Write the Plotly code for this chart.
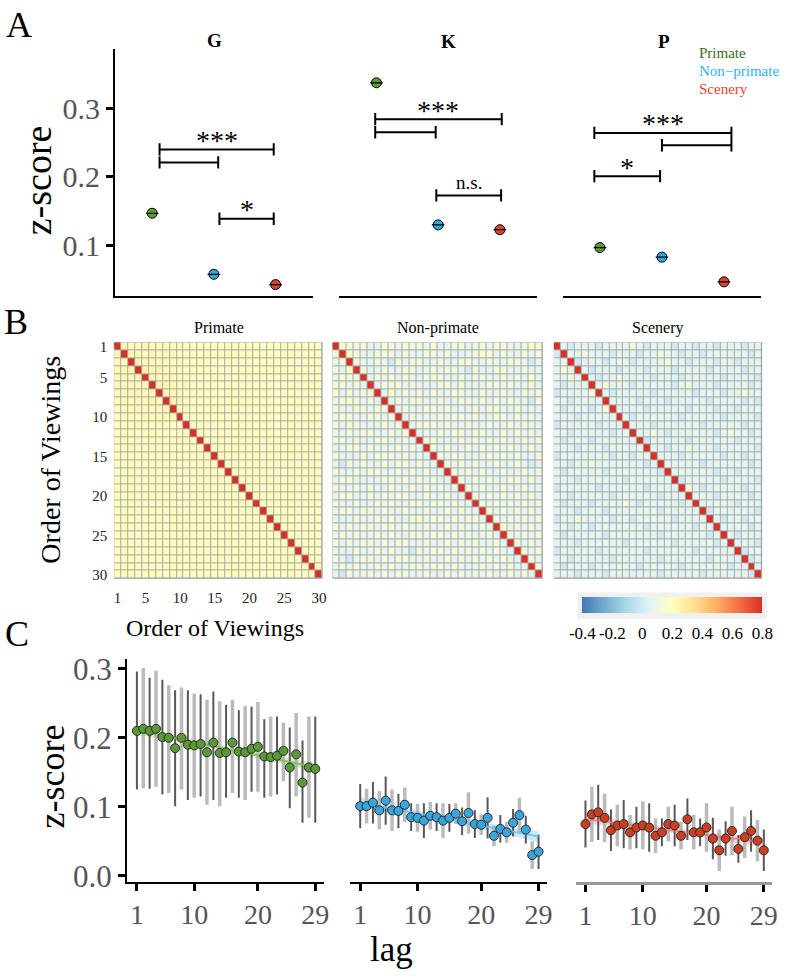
import numpy as np
import plotly.graph_objects as go

W, H = 792, 980
SERIF = "Liberation Serif"

# ---------------- data ----------------
cond_x = [1, 2, 3]
cond_names = ["Primate", "Non−primate", "Scenery"]
cond_colors = ["#5b9b37", "#2ea6df", "#d9452c"]

# panel A: mean z-score per area (Primate, Non-primate, Scenery)
g_mean = [0.147, 0.058, 0.043]
k_mean = [0.337, 0.130, 0.123]
p_mean = [0.097, 0.083, 0.047]
g_sem = [0.003, 0.002, 0.002]
k_sem = [0.003, 0.003, 0.003]
p_sem = [0.003, 0.003, 0.003]

# significance brackets: start, end, height, label
g_br_x0 = [1.12, 1.12, 2.09]
g_br_x1 = [2.97, 2.07, 2.97]
g_br_y = [0.240, 0.221, 0.139]
g_br_lab = ["***", "", "*"]
k_br_x0 = [0.98, 0.98, 1.97]
k_br_x1 = [3.03, 1.96, 3.02]
k_br_y = [0.284, 0.265, 0.173]
k_br_lab = ["***", "", "n.s."]
p_br_x0 = [0.91, 2.00, 0.91]
p_br_x1 = [3.12, 3.12, 1.97]
p_br_y = [0.264, 0.246, 0.201]
p_br_lab = ["***", "", "*"]

# panel B: correlation between viewings (off-diagonal codes, diagonal = 1)
level_val = {"0": -0.04, "1": 0.0, "2": 0.07, "3": 0.13, "4": 0.17,
             "5": 0.21, "6": 0.23, "7": 0.25, "X": 1.0}
primate_rows = [
    "76676 66565 55555 55555 45555 5554",
    "77667 66655 55655 55555 55455 5555",
    "66777 66565 56555 55455 55555 4555",
    "67776 76665 55555 45555 55555 5545",
    "66677 67665 55565 55555 54555 5555",
    "76666 77656 55555 55555 55545 5555",
    "66776 67665 65555 55455 55555 5455",
    "66666 76765 55555 55555 55555 5555",
    "56666 66766 55565 55545 55555 5555",
    "55656 66665 55555 45555 55555 4555",
    "55565 56555 55555 55555 55545 5555",
    "56555 65555 55545 55555 55555 5554",
    "55555 55555 65555 45555 55555 5555",
    "55655 55555 55555 55555 45555 5545",
    "55556 55555 55555 55555 55555 5555",
    "55555 55655 55555 54555 55555 4555",
    "45555 55555 55555 55555 55545 5555",
    "55555 55555 45555 55555 55555 5555",
    "55555 55555 55555 55555 45555 5554",
    "54555 55555 55555 55555 55555 5555",
    "55555 45555 55555 55555 55555 5555",
    "55555 55555 54555 55555 55455 5555",
    "55555 55455 55555 55555 55555 5545",
    "55555 55555 55555 45555 55555 5555",
    "55455 55555 55555 55555 55555 5555",
    "55555 55555 55554 55555 55555 4555",
    "55555 55555 55555 55555 55555 5555",
    "45555 55555 55555 54555 55555 5555",
    "55555 54555 55555 55555 55555 5555",
    "55555 55555 55555 55555 54555 5555",
]
nonprimate_rows = [
    "43332 24323 33242 23323 32332 2343",
    "34322 33323 22332 32223 43232 2323",
    "23322 32132 33223 22332 23223 3212",
    "32432 23223 32232 33213 22332 2322",
    "24332 32323 22333 22323 32232 3242",
    "33232 23332 32223 32322 23323 2232",
    "42323 32423 23232 23322 32232 2323",
    "23432 32232 33223 22332 32323 2213",
    "32233 23323 22332 32223 23322 3222",
    "23322 33232 32223 23323 22332 3232",
    "32332 22323 23332 32232 23223 2322",
    "22323 32232 32223 23323 32232 3232",
    "33232 23322 32332 22323 23232 2323",
    "22332 32223 23232 32232 32323 2232",
    "32223 23332 32223 23322 23232 3223",
    "21323 22323 32322 32323 22322 3212",
    "32232 33223 23232 23232 32232 2323",
    "23322 22332 32323 22323 23223 3242",
    "32232 32232 23232 32232 32232 2322",
    "23322 32323 32232 23223 23232 3232",
    "32232 23232 23323 32322 32323 2323",
    "23323 32322 32232 23232 23232 3232",
    "22232 23232 23423 32323 32323 2323",
    "32323 32332 32232 23232 23242 3232",
    "23232 23232 23323 32323 22323 2323",
    "32323 32323 32232 23232 32232 3232",
    "22232 23232 21323 32323 23232 2323",
    "32123 32323 32232 23232 32323 2232",
    "23232 23232 23323 32322 23232 3223",
    "21323 32323 32232 23232 32322 3232",
]
scenery_rows = [
    "21222 12222 32122 21221 22122 2122",
    "12232 22122 21223 22122 12222 2212",
    "22122 21222 12222 32212 22122 1222",
    "23221 22212 22122 21222 21222 2122",
    "22322 12232 22212 22122 22212 2221",
    "21222 23222 12222 21232 22122 2212",
    "12222 32122 22212 22221 22212 2322",
    "22122 22222 21222 12222 21222 2121",
    "21222 12322 22122 22212 22122 1222",
    "22212 22222 12222 22122 22212 2221",
    "12222 21222 22212 22222 12222 2122",
    "22122 22212 22232 12222 22123 2212",
    "21222 12222 22122 22212 22222 1222",
    "22212 22122 22222 12232 22122 2221",
    "12222 22212 21222 22122 22212 2122",
    "22122 32222 22212 22222 12222 2212",
    "21222 22122 22222 12222 22122 1222",
    "22212 22222 12222 22122 22212 2221",
    "12222 21222 22212 22232 12222 2122",
    "22122 22212 22222 12222 22122 2212",
    "21222 12222 32122 22212 22222 1222",
    "22212 22122 22222 12222 21222 2221",
    "12232 22212 21222 22122 22212 2122",
    "22122 12222 22212 22222 12222 2212",
    "21222 22122 22222 12222 22122 1222",
    "22212 22222 12222 22122 22212 2221",
    "12222 21222 22212 22222 12222 2122",
    "22122 22212 22222 12222 22122 2212",
    "21222 12222 22122 22212 22222 1222",
    "22212 22122 22222 12222 21222 2221",
]
viewings = list(range(1, 31))
view_ticks = [1, 5, 10, 15, 20, 25, 30]

# panel C: z-score by lag
lags = list(range(1, 30))
green_z = [0.210, 0.213, 0.210, 0.213, 0.201, 0.200, 0.185, 0.200, 0.190, 0.189,
           0.191, 0.179, 0.193, 0.178, 0.179, 0.193, 0.180, 0.179, 0.184, 0.187,
           0.173, 0.172, 0.174, 0.181, 0.157, 0.176, 0.135, 0.157, 0.155]
green_lo = [0.125, 0.127, 0.126, 0.129, 0.118, 0.120, 0.101, 0.125, 0.110, 0.113,
            0.115, 0.103, 0.110, 0.101, 0.113, 0.120, 0.113, 0.110, 0.122, 0.122,
            0.113, 0.115, 0.118, 0.137, 0.098, 0.115, 0.077, 0.084, 0.077]
green_hi = [0.296, 0.301, 0.287, 0.297, 0.284, 0.276, 0.269, 0.273, 0.269, 0.264,
            0.263, 0.255, 0.267, 0.253, 0.248, 0.255, 0.240, 0.246, 0.245, 0.252,
            0.227, 0.231, 0.231, 0.222, 0.215, 0.236, 0.196, 0.231, 0.231]
blue_z = [0.101, 0.101, 0.106, 0.095, 0.109, 0.095, 0.094, 0.103, 0.085, 0.084,
          0.080, 0.087, 0.085, 0.080, 0.084, 0.090, 0.079, 0.091, 0.075, 0.074,
          0.084, 0.058, 0.068, 0.063, 0.077, 0.088, 0.067, 0.030, 0.035]
blue_err = [0.032, 0.025, 0.030, 0.028, 0.035, 0.030, 0.025, 0.025, 0.020, 0.020,
            0.025, 0.020, 0.020, 0.025, 0.020, 0.015, 0.020, 0.030, 0.020, 0.015,
            0.030, 0.015, 0.020, 0.015, 0.020, 0.025, 0.020, 0.020, 0.025]
red_z = [0.075, 0.089, 0.092, 0.084, 0.066, 0.073, 0.075, 0.063, 0.070, 0.073,
         0.070, 0.058, 0.063, 0.075, 0.073, 0.058, 0.082, 0.063, 0.063, 0.070,
         0.054, 0.037, 0.054, 0.065, 0.039, 0.056, 0.065, 0.051, 0.037]
red_err = [0.034, 0.040, 0.040, 0.035, 0.030, 0.030, 0.035, 0.025, 0.030, 0.035,
           0.035, 0.025, 0.020, 0.025, 0.030, 0.020, 0.030, 0.025, 0.020, 0.035,
           0.030, 0.030, 0.025, 0.035, 0.020, 0.030, 0.030, 0.030, 0.030]
lag_ticks = [1, 10, 20, 29]


def px(x):
    return x / W


def py(y):
    return 1 - y / H


def decode(rows):
    out = []
    for i, r in enumerate(rows):
        r = r.replace(" ", "")
        assert len(r) == 29, (i, len(r))
        full = r[:i] + "X" + r[i:]
        out.append([level_val[c] for c in full])
    return out


fig = go.Figure()
shapes = []
annos = []

# ---------------- panel A ----------------
a_sets = [(g_mean, g_sem, g_br_x0, g_br_x1, g_br_y, g_br_lab),
          (k_mean, k_sem, k_br_x0, k_br_x1, k_br_y, k_br_lab),
          (p_mean, p_sem, p_br_x0, p_br_x1, p_br_y, p_br_lab)]
for i, (m, s, bx0, bx1, by, blab) in enumerate(a_sets):
    xa = "x" if i == 0 else "x%d" % (i + 1)
    ya = "y" if i == 0 else "y%d" % (i + 1)
    fig.add_trace(go.Scatter(
        x=cond_x, y=m, mode="markers", xaxis=xa, yaxis=ya,
        marker=dict(size=10, color=cond_colors, line=dict(color="black", width=1)),
        error_y=dict(type="data", array=s, color="black", thickness=1.2, width=4)))
    # horizontal bar of the error cap seen through each dot
    fig.add_trace(go.Scatter(
        x=cond_x, y=m, mode="markers", xaxis=xa, yaxis=ya,
        marker=dict(symbol="line-ew", size=9, line=dict(color="black", width=1.2))))
    d = 0.009
    for a, b, y, lab in zip(bx0, bx1, by, blab):
        ln = dict(color="black", width=2)
        shapes.append(dict(type="line", xref=xa, yref=ya, x0=a, x1=b, y0=y, y1=y, line=ln))
        shapes.append(dict(type="line", xref=xa, yref=ya, x0=a, x1=a, y0=y - d, y1=y + d, line=ln))
        shapes.append(dict(type="line", xref=xa, yref=ya, x0=b, x1=b, y0=y - d, y1=y + d, line=ln))
        if lab:
            star = "*" in lab
            annos.append(dict(xref=xa, yref=ya, x=(a + b) / 2, y=y, text=lab, showarrow=False,
                              yanchor="middle", yshift=9 if star else 13,
                              font=dict(family=SERIF, size=28 if star else 19, color="black")))

# ---------------- panel B ----------------
mats = [decode(primate_rows), decode(nonprimate_rows), decode(scenery_rows)]
for i, z in enumerate(mats):
    n = i + 4
    fig.add_trace(go.Heatmap(z=z, x=viewings, y=viewings, coloraxis="coloraxis",
                             xgap=1, ygap=1, xaxis="x%d" % n, yaxis="y%d" % n))
    shapes.append(dict(type="rect", xref="x%d" % n, yref="y%d" % n, x0=0.5, x1=30.5,
                       y0=0.5, y1=30.5, fillcolor="#a8a8a8",
                       line=dict(color="#a8a8a8", width=1), layer="below"))

# ---------------- panel C ----------------
c_sets = [
    (green_z, [h - v for h, v in zip(green_hi, green_z)], [v - l for v, l in zip(green_z, green_lo)],
     "#5a9a35", "rgba(125,187,90,0.9)", "rgba(140,195,105,0.35)"),
    (blue_z, blue_err, blue_err, "#36a6dd", "rgba(110,195,240,0.9)", "rgba(120,200,240,0.4)"),
    (red_z, red_err, red_err, "#cc3d24", "rgba(235,120,110,0.8)", "rgba(240,140,130,0.35)"),
]
lx = np.array(lags, dtype=float)
for i, (zv, ep, em, col, fitcol, bandcol) in enumerate(c_sets):
    xa, ya = "x%d" % (i + 7), "y%d" % (i + 7)
    zv = np.array(zv)
    # linear fit with confidence band
    b1, b0 = np.polyfit(lx, zv, 1)
    fit = b0 + b1 * lx
    resid = zv - fit
    mse = (resid ** 2).sum() / (len(lx) - 2)
    se = np.sqrt(mse * (1 / len(lx) + (lx - lx.mean()) ** 2 / ((lx - lx.mean()) ** 2).sum()))
    fig.add_trace(go.Scatter(x=np.concatenate([lx, lx[::-1]]),
                             y=np.concatenate([fit + 1.96 * se, (fit - 1.96 * se)[::-1]]),
                             fill="toself", fillcolor=bandcol, line=dict(width=0),
                             mode="lines", xaxis=xa, yaxis=ya, hoverinfo="skip"))
    # error bars, alternating shades
    for k, (ecol, th) in enumerate([("rgba(70,70,70,0.9)", 2), ("rgba(175,175,175,0.85)", 3.5)]):
        idx = [j for j in range(len(lags)) if j % 2 == k]
        fig.add_trace(go.Scatter(
            x=[lags[j] for j in idx], y=[zv[j] for j in idx], mode="markers",
            marker=dict(size=1, opacity=0), xaxis=xa, yaxis=ya,
            error_y=dict(type="data", array=[ep[j] for j in idx],
                         arrayminus=[em[j] for j in idx], color=ecol, thickness=th, width=0)))
    fig.add_trace(go.Scatter(x=lx, y=fit, mode="lines", line=dict(color=fitcol, width=2),
                             xaxis=xa, yaxis=ya))
    fig.add_trace(go.Scatter(x=lags, y=zv, mode="markers", xaxis=xa, yaxis=ya,
                             marker=dict(size=9, color=col, line=dict(color="#2a2a2a", width=1))))

# ---------------- axes ----------------
lay = {}
a_dom = [(116, 315), (342, 541), (567, 767)]
for i, (l, r) in enumerate(a_dom):
    sx = "" if i == 0 else str(i + 1)
    lay["xaxis" + sx] = dict(domain=[px(l), px(r)], range=[0.4, 3.6], anchor="y" + sx,
                             showline=True, linecolor="black", linewidth=2,
                             showticklabels=False, ticks="", showgrid=False, zeroline=False)
    if i == 0:
        lay["yaxis"] = dict(domain=[py(295), py(43)], range=[0.026, 0.386], anchor="x",
                            showline=True, linecolor="black", linewidth=2,
                            ticks="outside", ticklen=7, tickwidth=2.5, tickcolor="black",
                            tickvals=[0.1, 0.2, 0.3], showgrid=False, zeroline=False,
                            tickfont=dict(family=SERIF, size=30, color="#555555"))
    else:
        lay["yaxis" + sx] = dict(domain=[py(295), py(43)], range=[0.026, 0.386],
                                 anchor="x" + sx, visible=False)

b_dom = [(115, 325), (335, 547), (558, 768)]
for i, (l, r) in enumerate(b_dom):
    n = str(i + 4)
    lay["xaxis" + n] = dict(domain=[px(l), px(r)], range=[0.5, 30.5], anchor="y" + n,
                            showline=False, showgrid=False, zeroline=False, ticks="",
                            tickvals=view_ticks, showticklabels=(i == 0), ticklabelstandoff=8,
                            tickfont=dict(family=SERIF, size=15, color="#222"))
    lay["yaxis" + n] = dict(domain=[py(583), py(342)], range=[30.5, 0.5], anchor="x" + n,
                            showline=False, showgrid=False, zeroline=False, ticks="",
                            tickvals=view_ticks, showticklabels=(i == 0), ticklabelstandoff=6,
                            tickfont=dict(family=SERIF, size=15, color="#222"))

c_dom = [(128, 326), (353, 551), (580, 778)]
for i, (l, r) in enumerate(c_dom):
    n = str(i + 7)
    lay["xaxis" + n] = dict(domain=[px(l), px(r)], range=[-0.55, 30.3], anchor="y" + n,
                            showline=True, linecolor="#999999" if i == 2 else "black",
                            linewidth=3 if i == 2 else 2,
                            ticks="outside", ticklen=7, tickwidth=3, tickcolor="black",
                            tickvals=lag_ticks, showgrid=False, zeroline=False,
                            tickfont=dict(family=SERIF, size=28, color="#555555"))
    if i == 0:
        lay["yaxis" + n] = dict(domain=[py(892), py(665)], range=[-0.0085, 0.314],
                                anchor="x" + n, showline=True, linecolor="black", linewidth=2,
                                ticks="outside", ticklen=7, tickwidth=2.5, tickcolor="black",
                                tickvals=[0, 0.1, 0.2, 0.3], tickformat=".1f",
                                showgrid=False, zeroline=False,
                                tickfont=dict(family=SERIF, size=31, color="#555555"))
    else:
        lay["yaxis" + n] = dict(domain=[py(892), py(665)], range=[-0.0085, 0.314],
                                anchor="x" + n, visible=False)


# ---------------- text ----------------
def txt(x, y, s, size, color="black", angle=0, bold=False, xanchor="center"):
    if bold:
        s = "<b>" + s + "</b>"
    annos.append(dict(xref="paper", yref="paper", x=px(x), y=py(y), text=s, showarrow=False,
                      xanchor=xanchor, yanchor="middle", textangle=angle,
                      font=dict(family=SERIF, size=size, color=color)))


txt(19, 18, "A", 36)
txt(16, 321, "B", 36)
txt(17, 639, "C", 36)
txt(216, 34, "G", 19, bold=True)
txt(452, 35, "K", 19, bold=True)
txt(669, 35, "P", 19, bold=True)
legend_cols = ["#3d6b22", "#29b5f0", "#e0452a"]
for j, (nm, c) in enumerate(zip(cond_names, legend_cols)):
    txt(702, 47 + j * 18.5, nm, 15, color=c, xanchor="left")
txt(38, 177, "z-score", 38, angle=-90)
txt(221, 327, "Primate", 16)
txt(441, 327, "Non-primate", 16)
txt(663, 327, "Scenery", 16)
txt(50, 462, "Order of Viewings", 28, angle=-90)
txt(217, 633, "Order of Viewings", 24)
txt(52, 785, "z-score", 36, angle=-90)
txt(394, 961, "lag", 35)

# colorbar background box
shapes.append(dict(type="rect", xref="paper", yref="paper", x0=px(582), x1=px(773),
                   y0=py(624), y1=py(597), fillcolor="#f0f0f0", line=dict(width=0),
                   layer="below"))

colorscale = [[0.0, "#4575b4"], [0.125, "#74add1"], [0.25, "#abd9e9"], [0.375, "#e0f3f8"],
              [0.5, "#ffffbf"], [0.625, "#fee090"], [0.75, "#fdae61"], [0.875, "#f46d43"],
              [1.0, "#d73027"]]

fig.update_layout(
    width=W, height=H, margin=dict(l=0, r=0, t=0, b=0),
    paper_bgcolor="white", plot_bgcolor="white", showlegend=False,
    font=dict(family=SERIF),
    coloraxis=dict(colorscale=colorscale, cmin=-0.4, cmax=0.8,
                   colorbar=dict(orientation="h", x=px(677.5), xanchor="center",
                                 y=py(602), yanchor="top", len=181 / W, lenmode="fraction",
                                 thickness=16, xpad=0, ypad=0, outlinewidth=0,
                                 tickvals=[-0.4, -0.2, 0, 0.2, 0.4, 0.6, 0.8],
                                 ticktext=["-0.4", "-0.2", "0", "0.2", "0.4", "0.6", "0.8"],
                                 ticks="outside", ticklen=6, tickcolor="rgba(0,0,0,0)",
                                 tickfont=dict(family=SERIF, size=17, color="black"))),
    shapes=shapes, annotations=annos, **lay)

fig.write_html("out.html", config={"displayModeBar": False},
               post_script="document.body.style.margin='0';document.body.style.overflow='hidden';")
